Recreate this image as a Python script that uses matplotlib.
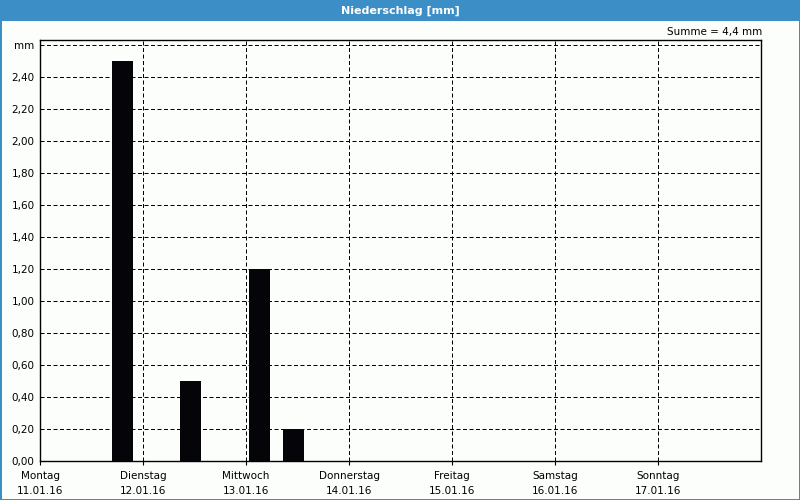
import matplotlib
matplotlib.use("Agg")
import matplotlib.pyplot as plt
from matplotlib.patches import Rectangle

days = ["Montag", "Dienstag", "Mittwoch", "Donnerstag", "Freitag", "Samstag", "Sonntag"]
dates = ["11.01.16", "12.01.16", "13.01.16", "14.01.16", "15.01.16", "16.01.16", "17.01.16"]
bar_pos = [0.80, 1.46, 2.13, 2.46]   # in days since Monday 00:00
bar_vals = [2.5, 0.5, 1.2, 0.2]
y_ticks = [0.0, 0.2, 0.4, 0.6, 0.8, 1.0, 1.2, 1.4, 1.6, 1.8, 2.0, 2.2, 2.4, 2.6]
title = "Niederschlag [mm]"
summe = "Summe = 4,4 mm"

bg = "#fcfefc"
blue = "#3c8fc6"

fig = plt.figure(figsize=(8, 5), dpi=100, facecolor=bg)
W, H = 800, 500

# title bar and border
fig.patches.append(Rectangle((0, 1 - 21 / H), 1, 21 / H, transform=fig.transFigure,
                             facecolor=blue, edgecolor="none", zorder=0))
for (x0, y0, w, h) in [(0, 0, 1.5 / W, 1), (1 - 1.5 / W, 0, 1.5 / W, 1), (0, 0, 1, 1.5 / H)]:
    fig.patches.append(Rectangle((x0, y0), w, h, transform=fig.transFigure,
                                 facecolor=blue, edgecolor="none", zorder=0))
fig.text(0.5, 1 - 11 / H, title, color="white", fontsize=8, fontweight="bold",
         ha="center", va="center")

ax = fig.add_axes([40 / W, 39 / H, 721 / W, 421 / H])
ax.set_facecolor(bg)
ax.set_xlim(0, 7)
ax.set_ylim(0, 421 / 32 * 0.2)

ax.bar(bar_pos, bar_vals, width=0.204, color="#050408", zorder=3)

ax.set_yticks(y_ticks)
ax.set_yticklabels([("%.2f" % v).replace(".", ",") for v in y_ticks[:-1]] + ["mm"])
ax.set_xticks(range(7))
ax.set_xticklabels([f"{d}\n{dt}" for d, dt in zip(days, dates)])

ax.tick_params(axis="y", length=0, pad=4, labelsize=7.5)
ax.tick_params(axis="x", length=3, width=0.8, pad=4, labelsize=7.5, direction="out")
for lbl in ax.get_xticklabels():
    lbl.set_linespacing(1.7)

ax.grid(True, color="black", linestyle=(0, (4, 2.5)), linewidth=0.72, zorder=1)
for s in ax.spines.values():
    s.set_linewidth(1.0)
    s.set_color("black")

fig.text(762 / W, 1 - 32 / H, summe, fontsize=7.5, ha="right", va="center")

fig.savefig("out.png", dpi=100, facecolor=bg)
